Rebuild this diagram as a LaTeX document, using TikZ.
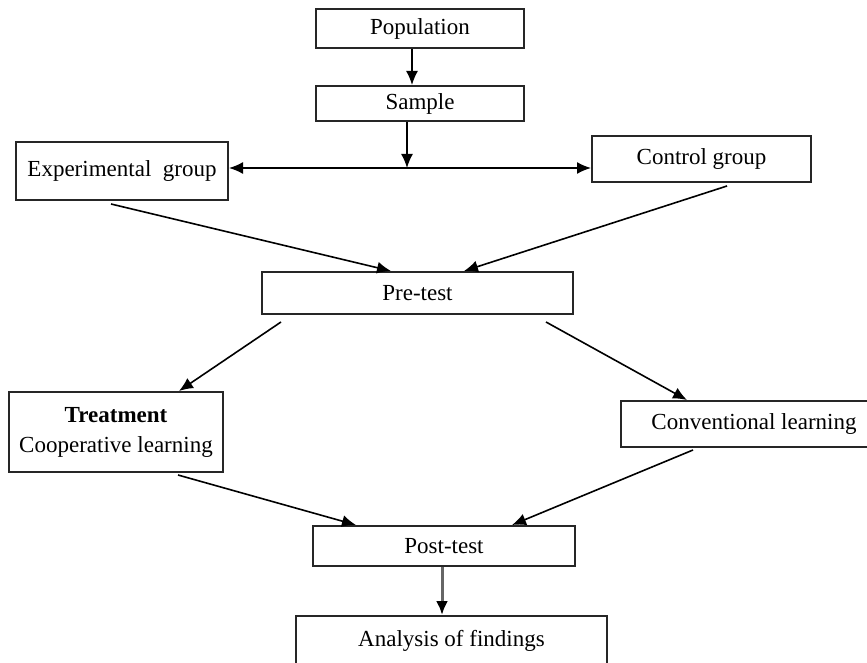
\documentclass[tikz,border=0pt]{standalone}
\usepackage{fontspec}
\setmainfont{Liberation Serif}
\usetikzlibrary{arrows.meta,calc}
\begin{document}
\begin{tikzpicture}[x=1pt,y=-1pt,
  box/.style={draw=black!85, line width=2pt, inner sep=0pt, align=center,
    font=\fontsize{23}{30}\selectfont},
  arr/.style={line width=1.6pt, -{Latex[length=14pt,width=12pt]}},
  garr/.style={draw=black!60, line width=3pt, -{Latex[length=14pt,width=12pt,color=black]}},
]
\useasboundingbox (0,0) rectangle (867,663);
\clip (0,0) rectangle (867,663);
\fill[white] (0,0) rectangle (867,663);

\node[box, minimum width=208pt, minimum height=39pt] (pop) at (420,28.5) {Population};
\node[box, minimum width=208pt, minimum height=35pt] (sam) at (420,103.5) {Sample};
\node[box, minimum width=212pt, minimum height=58pt] (exp) at (122,171) {Experimental\ \ group};
\node[box, minimum width=219pt, minimum height=46pt] (ctl) at (701.5,159) {Control group};
\node[box, minimum width=311pt, minimum height=42pt] (pre) at (417.5,293) {Pre-test};
\node[box, minimum width=214pt, minimum height=80pt] (trt) at (116,432) {\textbf{Treatment}\\Cooperative learning};
\node[box, minimum width=266pt, minimum height=46pt] (con) at (754,424) {Conventional learning};
\node[box, minimum width=262pt, minimum height=40pt] (post) at (444,546) {Post-test};
\node[box, minimum width=311pt, minimum height=50pt] (ana) at (451.5,641) {Analysis of findings};

\coordinate (j) at (407,168);

\draw[arr] ([xshift=-8pt]pop.south) -- ([xshift=-8pt]sam.north);
\draw[arr] (sam.south -| j) -- (j);
\draw[arr] (j) -- (j -| exp.east);
\draw[arr] (j) -- (j -| ctl.west);

\draw[arr] ($(exp.south west)+(96,3)$) -- ($(pre.north west)+(130,0)$);
\draw[arr] ($(ctl.south west)+(136,3)$) -- ($(pre.north west)+(203,0)$);
\draw[arr] ($(pre.south west)+(20,7)$) -- ($(trt.north west)+(171,0)$);
\draw[arr] ($(pre.south west)+(285,7)$) -- ($(con.north west)+(67,0)$);
\draw[arr] ($(trt.south west)+(170,2)$) -- ($(post.north west)+(44,0)$);
\draw[arr] ($(con.south west)+(73,2)$) -- ($(post.north west)+(200,0)$);
\draw[garr] ([xshift=-2pt]post.south) -- ([xshift=-2pt]post.south |- ana.north);
\end{tikzpicture}
\end{document}
